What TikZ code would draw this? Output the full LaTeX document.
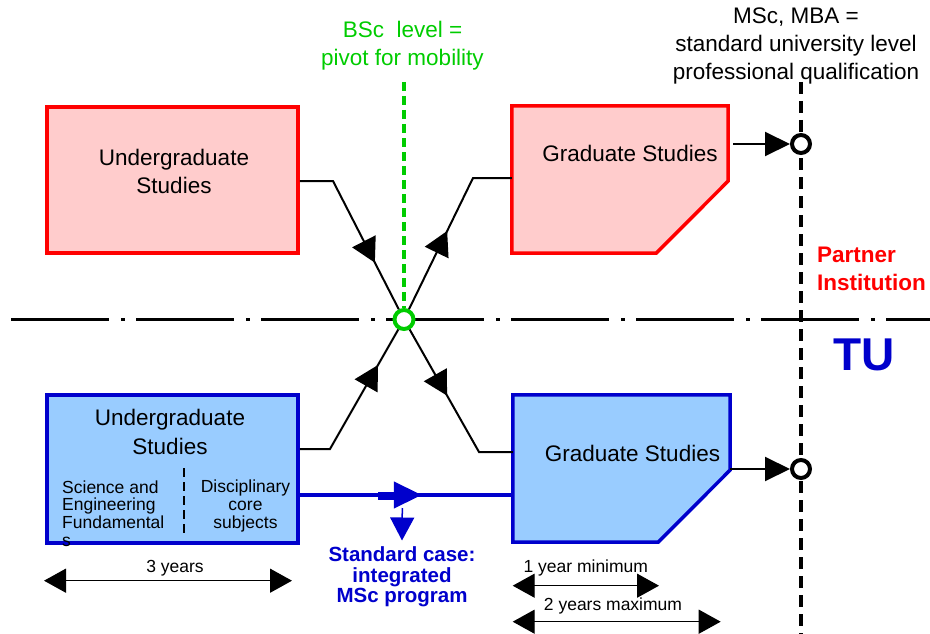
\documentclass[tikz,border=0pt]{standalone}
\usepackage{fontspec}
\setmainfont{Liberation Sans}
\usetikzlibrary{arrows.meta,decorations.markings}
\definecolor{pred}{RGB}{255,0,0}
\definecolor{pfill}{RGB}{255,204,204}
\definecolor{bstroke}{RGB}{0,0,204}
\definecolor{bfill}{RGB}{153,204,255}
\definecolor{pgreen}{RGB}{0,204,0}
\tikzset{
  boxr/.style={draw=pred, fill=pfill, line width=3.5pt},
  boxb/.style={draw=bstroke, fill=bfill, line width=3.5pt},
  gframe/.style={rectangle, inner sep=0pt},
  bigtxt/.style={font=\fontsize{22.5}{28.5}\selectfont, align=center, inner sep=0pt},
  smalltxt/.style={font=\fontsize{17.5}{17.8}\selectfont, inner sep=0pt},
  conn/.style={line width=2pt},
  endpt/.style={circle, draw=black, fill=white, line width=4pt, minimum size=18pt, inner sep=0pt},
  tipmark/.style={postaction={decorate}, decoration={markings, mark=at position #1 with {\arrow{Triangle[length=24pt,width=26pt]}}}},
  bluemark/.style={postaction={decorate}, decoration={markings, mark=at position #1 with {\arrow{Triangle[length=28pt,width=26pt]}}}},
  spanarrow/.style={line width=1.4pt, {Triangle[length=22pt,width=24pt]}-{Triangle[length=22pt,width=24pt]}},
  outarrow/.style={conn, -{Triangle[length=25pt,width=24pt]}},
}
\begin{document}
\begin{tikzpicture}[x=1pt,y=-1pt]
\useasboundingbox (0,0) rectangle (930,634);

% axes
\coordinate (axL) at (11,319.5);
\coordinate (axR) at (930,319.5);
\draw[line width=3.6pt, dash pattern=on 98pt off 12pt on 4pt off 11pt] (axL) -- (axR);
\coordinate (vT) at (801,82);
\coordinate (vB) at (801,634);
\draw[line width=3.4pt, dash pattern=on 12pt off 7pt] (vT) -- (vB);

% boxes
\node[gframe, boxr, minimum width=251pt, minimum height=146pt] (ug1) at (172.5,180) {};
\node[gframe, minimum width=216pt, minimum height=147pt] (g1) at (620,179.5) {};
\path[boxr] (g1.north west) -- (g1.north east) -- ([yshift=-1.5pt]g1.east) -- ([xshift=-72pt]g1.south east) -- (g1.south west) -- cycle;
\node[gframe, boxb, minimum width=251pt, minimum height=148pt] (ug2) at (172.5,469) {};
\node[gframe, minimum width=217pt, minimum height=147pt] (g2) at (621.5,468.5) {};
\path[boxb] (g2.north west) -- (g2.north east) -- ([yshift=-1.5pt]g2.east) -- ([xshift=-72pt]g2.south east) -- (g2.south west) -- cycle;

% box texts
\node[bigtxt] (ug1t) at (174,171.3) {Undergraduate\\Studies};
\node[bigtxt, anchor=base] (g1t) at (630,161.7) {Graduate Studies};
\node[bigtxt] (ug2t) at (170,432) {Undergraduate\\Studies};
\node[bigtxt, anchor=base] (g2t) at (632.5,461) {Graduate Studies};
\node[smalltxt, align=left, anchor=west] (sef) at (62,513.5) {Science and\\Engineering\\Fundamental\\s};
\node[smalltxt, align=center] (dcs) at (245.5,505.8) {Disciplinary\\core\\subjects};
\coordinate (dvT) at (184,468);
\coordinate (dvB) at (184,533);
\draw[line width=2.2pt, dash pattern=on 9pt off 5pt] (dvT) -- (dvB);

% pivot
\node[circle, draw=pgreen, fill=white, line width=4pt, minimum size=19pt, inner sep=0pt] (pivot) at (404,319.5) {};
\coordinate (gT) at (404,82);
\draw[pgreen, line width=3.4pt, dash pattern=on 9pt off 5pt] (gT) -- (pivot);
\node[bigtxt, text=pgreen] (bsc) at (402.5,45.6) {BSc\ \ level =\\pivot for mobility};

% connectors through pivot
\coordinate (b1) at (333,181);
\coordinate (b2) at (473,178);
\coordinate (b3) at (330,449);
\coordinate (b4) at (479,452);
\draw[conn, tipmark=125pt] (ug1.east |- b1) -- (b1) -- (pivot);
\draw[conn, tipmark=87pt] (pivot) -- (b2) -- (g1.west |- b2);
\draw[conn, tipmark=127pt] (ug2.east |- b3) -- (b3) -- (pivot);
\draw[conn, tipmark=76pt] (pivot) -- (b4) -- (g2.west |- b4);

% integrated line
\coordinate (bl) at (0,495);
\coordinate (shA) at (378,496);
\coordinate (shB) at (396,496);
\draw[bstroke, line width=4.5pt, bluemark=122pt] (ug2.east |- bl) -- (g2.west |- bl);
\draw[bstroke, line width=8pt] (shA) -- (shB);
\node[font=\bfseries\fontsize{20.5}{20.5}\selectfont, text=bstroke, align=center, inner sep=0pt] (std) at (402,576.8) {Standard case:\\integrated\\MSc program};
\coordinate (dn) at (402.3,508);
\draw[bstroke, line width=1.5pt, -{Triangle[length=23pt,width=24pt]}] (dn) -- ([yshift=6pt]std.north);

% end points
\node[endpt] (o1) at (801,144) {};
\node[endpt] (o2) at (801,469) {};
\draw[outarrow] ([xshift=5pt]g1.east |- o1) -- (o1);
\draw[outarrow] (g2.east |- o2) -- (o2);
\node[bigtxt, font=\fontsize{22.5}{28}\selectfont] (msc) at (796,45.5) {MSc, MBA =\\standard university level\\professional qualification};

% side labels
\node[font=\bfseries\fontsize{22.5}{27.7}\selectfont, text=pred, align=left, anchor=west, inner sep=0pt] (partner) at (817,269) {Partner\\Institution};
\node[font=\bfseries\fontsize{46}{46}\selectfont, text=bstroke, anchor=base, inner sep=0pt] (tu) at (864,370) {TU};

% durations
\coordinate (s1a) at (44,580.7);
\coordinate (s1b) at (292,580.7);
\draw[spanarrow] (s1a) -- (s1b);
\node[smalltxt, anchor=base] (y3) at (175,572.7) {3 years};
\coordinate (s2a) at (512.7,585.7);
\coordinate (s2b) at (659,585.7);
\draw[spanarrow] (s2a) -- (s2b);
\node[smalltxt, anchor=base] (y1) at (585.8,572.7) {1 year minimum};
\coordinate (s3a) at (512.7,621.7);
\coordinate (s3b) at (720.7,621.7);
\draw[spanarrow] (s3a) -- (s3b);
\node[smalltxt, anchor=base] (y2) at (613,610) {2 years maximum};
\end{tikzpicture}
\end{document}
